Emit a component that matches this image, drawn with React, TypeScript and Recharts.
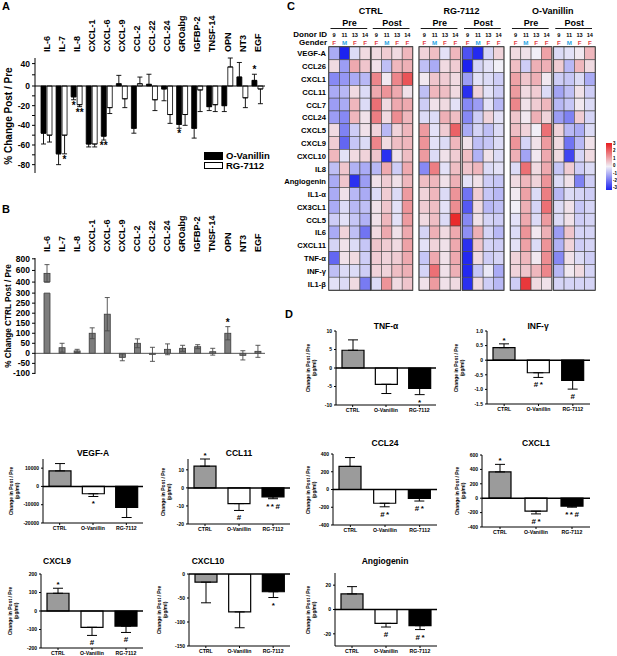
import React from 'react';
import { BarChart, Bar, XAxis, YAxis, ErrorBar, ReferenceLine, ReferenceArea, Cell, ScatterChart, Scatter } from 'recharts';

const FONT = '"Liberation Sans", Arial, Helvetica, sans-serif';

// ---------- Panel A: % change post / pre ----------
const A_CATS = ['IL-6', 'IL-7', 'IL-8', 'CXCL-1', 'CXCL-6', 'CXCL-9', 'CCL-2', 'CCL-22', 'CCL-24', 'GROabg', 'IGFBP-2', 'TNSF-14', 'OPN', 'NT3', 'EGF'];
const A_OV = [-48, -69, -11, -59, -51, 4, -43, 3, -3, -39, -43, -21, -20, 16, 10];
const A_OV_ERR = [11, 11, 3, 3, 4, 15, 5, 18, 12, 4, 10, 4, 6, 26, 11];
const A_RG = [-50, -50, -19, -59, -22, -13, 4, -14, -29, -29, -4, -19, 34, -12, -3];
const A_RG_ERR = [7, 19, 2, 3, 6, 9, 12, 11, 9, 11, 22, 7, 16, 10, 15];
const A_OV_SIG = ['', '', '*', '', '**', '', '', '', '', '*', '', '', '', '', '*'];
const A_RG_SIG = ['', '*', '**', '', '', '', '', '', '', '', '', '', '', '', ''];
const A_TICKS = [40, 20, 0, -10, -20, -30, -40, -50, -60, -70, -80];

// ---------- Panel B: % change CTRL post / pre ----------
const B_VALS = [550, 28, 12, 100, 195, -20, 50, -5, 20, 25, 33, 8, 100, -10, 10];
const B_ERR = [150, 22, 8, 27, 83, 17, 22, 35, 27, 15, 10, 17, 33, 23, 30];
const B_SIG = ['', '', '', '', '', '', '', '', '', '', '', '', '*', '', ''];
const B_TICKS = [-100, -50, 0, 50, 100, 150, 200, 250, 300, 400, 600, 800];

// ---------- Panel C: heatmap (z-scores) ----------
const HM_ROWS = ['VEGF-A', 'CCL26', 'CXCL1', 'CCL11', 'CCL7', 'CCL24', 'CXCL5', 'CXCL9', 'CXCL10', 'IL8', 'Angiogenin', 'IL1-α', 'CX3CL1', 'CCL5', 'IL6', 'CXCL11', 'TNF-α', 'INF-γ', 'IL1-β'];
const HM_GROUPS = ['CTRL', 'RG-7112', 'O-Vanillin'];
const HM_PHASES = ['Pre', 'Post'];
const HM_DONORS = ['9', '11', '13', '14'];
const HM_GENDERS = ['F', 'M', 'F', 'F'];

const CTRL_PRE = [
  [-1, -3, -0.3, 0.3], [0.3, -1.2, 1, 0.6], [-1.5, -1.3, -1, -0.8], [-1, -0.8, 0.3, -0.3],
  [-1.2, -1, 0.8, -0.3], [-1.2, -1.5, 0.8, 0.2], [0.3, -1.6, -0.5, 0.2], [0.5, -2, -0.6, -0.3],
  [0.8, -0.2, 0.3, 0.4], [-0.7, 0.6, -0.9, -1], [-1, 0.6, -2.8, -1.2], [-1, 0.2, -0.8, -1],
  [-1, -0.3, -0.8, -0.7], [-0.5, -0.2, -0.6, -0.9], [-1, 0.4, -0.7, -1.8], [-0.4, 0.2, -0.3, -0.6],
  [-2, 0.2, 0.3, -0.5], [-0.7, -0.3, -0.3, -0.5], [-0.2, -0.3, 0.3, -1.7],
];
const CTRL_POST = [
  [0.3, 0.5, 0.3, 0.8], [0.2, -0.7, 0.8, 0.9], [1.5, 0.1, 1.5, 2.2], [1, 1.3, 1, 0.2],
  [1.8, 0.3, 1, 1], [1.6, 0.3, 1.4, 0.8], [0.4, -0.8, 0.4, 0.8], [1.5, 0.3, 0.7, 0.8],
  [0.6, -2.8, 0.2, 0.7], [-0.8, 1, -0.5, 1], [0.2, 0.5, 0.2, 0.8], [-0.3, 0.5, -0.3, 1.2],
  [0.2, 0.6, -0.2, 1.3], [0.2, 0.8, -0.2, 1.2], [0.3, 1, 0.2, 1], [0.6, 0.5, 0.3, 1.1],
  [0.5, 0.4, 0.5, 1], [0.4, 0.4, 0.7, 0.9], [-0.3, 1.3, 0.3, 0.6],
];
const RG_PRE = [
  [0.4, 0.7, -0.2, 0.8], [-0.7, -1, 0.3, 0.5], [0.1, 0.6, 0.5, 0.3], [-0.7, 0.8, 0.7, 0.3],
  [-0.5, 0.2, 0.3, -0.2], [-0.3, -0.3, 0.9, 0.7], [1.2, -0.2, 0.5, 2], [1.3, -0.2, -0.3, 0.8],
  [1.2, -0.3, 0.2, 0.5], [-1.5, 1.6, -0.2, 0.7], [0.7, 0.8, 0.2, 0.9], [0.4, 0.8, -0.3, 1.3],
  [0.5, 0.7, -0.2, 1.4], [0.3, 0.7, -0.3, 2.8], [-0.4, 0.9, 0.3, 1], [-0.2, 0.4, 0.2, 1],
  [-0.6, 1, 0.2, 1], [-0.4, 1.8, 0.2, 0.9], [0.2, 1.2, 0.2, 0.3],
];
const RG_POST = [
  [-2.3, -2.9, -0.4, 0.4], [-3, -0.4, -0.2, 0], [-1.2, -0.2, -0.3, -0.5], [-2.8, 0.4, -0.2, -0.5],
  [-1.5, -1.2, -0.2, -0.8], [-1.5, -0.5, 0.4, -0.2], [-1, -0.4, -0.7, -0.3], [0.2, -0.7, -0.6, -0.3],
  [0.7, -0.9, 0.2, -0.3], [0.6, 0.8, -0.3, -0.2], [-0.2, 0.2, -0.5, -0.6], [-1.8, 0.5, -0.6, -0.8],
  [-2.2, 0.3, -0.8, -0.7], [-1.5, 0.2, -0.4, -0.5], [-1.4, 0.9, -0.4, -0.8], [-2.8, 0.6, -0.4, -0.5],
  [-2.9, 0.3, -0.5, -0.4], [-2.9, -0.6, -0.1, -1], [-2.8, 0.3, -0.5, -0.8],
];
const OV_PRE = [
  [0.3, 0.2, 0, 1.1], [0.7, -0.5, 0.9, 0.9], [1.1, 0.6, 0.9, 0.1], [1.2, 0.3, 0.5, -0.3],
  [1.5, 0.2, 0.5, 0.8], [0.6, 0.1, 0.9, 0.4], [0.7, 0.4, 0, 1.8], [1.3, -0.4, 0.2, 1.2],
  [0.9, -1.1, 0.1, 1], [-0.3, 1.8, 0.3, 1], [0.3, 0.8, 0.4, 1.3], [0.1, 1.1, -0.3, 1.6],
  [0, 0.9, -0.4, 1.8], [-0.2, 1, -0.3, 1.2], [-0.3, 1.3, 0.1, 0.9], [-0.2, 1.1, -0.3, 1.3],
  [0.4, 0.8, 0.1, 1.4], [0.4, 0.6, 0.8, 1.5], [-0.5, 2.6, 0.3, 0.2],
];
const OV_POST = [
  [-0.3, -0.2, 0.1, 0.8], [0.5, -0.8, 0.8, 0.3], [-0.5, -0.6, -0.3, -1], [-1.1, -0.7, 0.2, -0.5],
  [-0.8, -0.6, 0.1, -0.3], [-1.2, -1.6, 0.5, -0.4], [0.4, -0.8, -1, -0.3], [0.3, -1.8, -0.8, 0.2],
  [0.3, -2.5, -0.4, 0.3], [-0.6, 0.5, -0.5, -0.3], [-0.3, 0.2, -1.6, -0.5], [-0.8, -0.3, -0.4, -0.5],
  [-0.3, 0.2, -0.6, -0.4], [-0.3, 0.2, -0.5, -0.4], [-1.2, 0.6, -0.4, -0.4], [-0.9, 0.4, -0.5, -0.4],
  [-1.5, 0.2, -0.3, -0.5], [-0.8, 0.1, 0.3, -0.4], [-0.4, -0.4, -0.4, -0.4],
];
const HM_BLOCKS = [CTRL_PRE, CTRL_POST, RG_PRE, RG_POST, OV_PRE, OV_POST];
const HM_SCALE = ['3', '2', '1', '0', '-1', '-2', '-3'];

// ---------- Panel D: change in post / pre (pg/ml) ----------
const D_GROUPS = ['CTRL', 'O-Vanillin', 'RG-7112'];
const TNF_VALS = [4.8, -4.4, -5.5];
const TNF_ERR = [2.8, 2.5, 1.7];
const TNF_SIG = ['', '', '*'];
const INF_VALS = [0.43, -0.43, -0.69];
const INF_ERR = [0.13, 0.16, 0.3];
const INF_SIG = ['*', '#*', '#'];
const CCL24_VALS = [260, -155, -100];
const CCL24_ERR = [100, 40, 30];
const CCL24_SIG = ['', '#*', '#*'];
const CXCL1_VALS = [365, -180, -110];
const CXCL1_ERR = [105, 38, 15];
const CXCL1_SIG = ['*', '#*', '**#'];
const VEGF_VALS = [8500, -4000, -11500];
const VEGF_ERR = [4000, 1500, 5500];
const VEGF_SIG = ['', '*', ''];
const CCL11_VALS = [12, -8.7, -5];
const CCL11_ERR = [4, 3.8, 1];
const CCL11_SIG = ['*', '#', '**#'];
const CXCL9_VALS = [96, -88, -82];
const CXCL9_ERR = [27, 44, 34];
const CXCL9_SIG = ['*', '#', '#'];
const CXCL10_VALS = [-17, -79, -37];
const CXCL10_ERR = [43, 33, 12];
const CXCL10_SIG = ['', '', '*'];
const ANG_VALS = [12.8, -11.4, -13.3];
const ANG_ERR = [6, 3, 3.2];
const ANG_SIG = ['', '#', '#*'];

// ---------- helpers ----------
const A_BOX = { x0: 35, y0: 58, x1: 265, y1: 173 };
const A_DOMAIN = [-88.5, 28.5];
const A_POS = 0.57; // positive half of the axis is compressed in the original
const squashA = (v: number) => (v > 0 ? v * A_POS : v);

const B_BOX = { x0: 35, y0: 258, x1: 265, y1: 374 };
const B_DOMAIN = [-103, 475];
// broken axis above 300
const fB = (v: number) => (v <= 300 ? v : v <= 400 ? 300 + (v - 300) * 0.55 : 355 + (v - 400) * 0.29);

const HM_X0 = 329, HM_X1 = 595, HM_Y0 = 47, HM_Y1 = 290;
const HM_BLOCK_START = [0, 4.1, 8.75, 12.95, 17.6, 21.8];
const HM_UNITS = 25.8;
const HM_UNIT = (HM_X1 - HM_X0) / HM_UNITS;
const HM_CELL_H = (HM_Y1 - HM_Y0) / HM_ROWS.length;
const HM_COLS = HM_BLOCK_START.flatMap((s) => HM_DONORS.map((_, k) => s + k + 0.5));

function zColor(z: number) {
  const t = Math.max(-1, Math.min(1, z / 3));
  const mid = [241, 239, 247];
  const end = t >= 0 ? [232, 28, 30] : [28, 34, 240];
  const a = Math.abs(t);
  const c = mid.map((m, i) => Math.round(m + (end[i] - m) * a));
  return `rgb(${c[0]},${c[1]},${c[2]})`;
}

function errPair(v: number, e: number, f: (x: number) => number, twoSided = false) {
  if (twoSided) return [f(v) - f(v - e), f(v + e) - f(v)];
  return v >= 0 ? [0, f(v + e) - f(v)] : [f(v) - f(v - e), 0];
}

// significance marks drawn at the end of each error bar
function sigLabel(sigs: string[], vals: number[], errT: number[], ppu: number, fs: number, below: number, spacing = 0) {
  return (p: any) => {
    const i = p.index;
    const s = sigs[i];
    if (!s) return <g />;
    const vb = p.viewBox || p;
    const top = Math.min(vb.y, vb.y + vb.height);
    const bot = Math.max(vb.y, vb.y + vb.height);
    const cx = vb.x + vb.width / 2 + spacing / 2;
    const e = errT[i] * ppu;
    const y = vals[i] >= 0 ? top - e - 1 : bot + e + below;
    return (
      <text x={cx} y={y} textAnchor="middle" fontSize={fs} fontWeight="bold" fontFamily={FONT} fill="#000" letterSpacing={spacing}>
        {s}
      </text>
    );
  };
}

const RotTick = (p: any) => (
  <text x={p.x} y={p.y} transform={`rotate(-90 ${p.x} ${p.y})`} dy={3.2} textAnchor="start" fontSize={9} fontWeight="bold" fontFamily={FONT} fill="#000">
    {p.payload.value}
  </text>
);

const VLabel = ({ cx, cy, size, children }: any) => (
  <div style={{ position: 'absolute', left: cx, top: cy, transform: 'translate(-50%, -50%) rotate(-90deg)', fontSize: size, fontWeight: 'bold', whiteSpace: 'nowrap', textAlign: 'center', lineHeight: 1.15 }}>
    {children}
  </div>
);

const Letter = ({ x, y, children }: any) => (
  <div style={{ position: 'absolute', left: x, top: y, fontSize: 11, fontWeight: 'bold', lineHeight: 1 }}>{children}</div>
);

// ---------- Panel A ----------
function PanelA() {
  const yW = A_BOX.x0, xH = A_BOX.y0;
  const w = A_BOX.x1 + 5, h = A_BOX.y1 + 3;
  const ppu = (A_BOX.y1 - A_BOX.y0) / (A_DOMAIN[1] - A_DOMAIN[0]);
  const rows = A_CATS.map((name, i) => ({
    name,
    ov: squashA(A_OV[i]),
    ovE: errPair(A_OV[i], A_OV_ERR[i], squashA),
    rg: squashA(A_RG[i]),
    rgE: errPair(A_RG[i], A_RG_ERR[i], squashA),
  }));
  const ovErrT = rows.map((r) => r.ovE[0] + r.ovE[1]);
  const rgErrT = rows.map((r) => r.rgE[0] + r.rgE[1]);
  return (
    <div style={{ position: 'absolute', left: 0, top: 0 }}>
      <BarChart width={w} height={h} data={rows} margin={{ top: 0, right: 5, bottom: 3, left: 0 }} barSize={5} barGap={1}>
        <XAxis dataKey="name" orientation="top" height={xH} axisLine={false} tickLine={false} tickSize={0} tickMargin={6} interval={0} tick={RotTick} padding={{ left: 4, right: 0 }} />
        <YAxis
          width={yW}
          type="number"
          domain={A_DOMAIN}
          allowDataOverflow
          ticks={A_TICKS.map(squashA)}
          interval={0}
          tickFormatter={(v: number, i: number) => {
            const o = A_TICKS[i];
            return o === 20 || Math.abs(o) % 20 === 10 ? '' : String(o);
          }}
          stroke="#000"
          tickSize={3}
          tick={{ fontSize: 8.5, fontWeight: 'bold', fill: '#000', fontFamily: FONT }}
        />
        <ReferenceLine y={0} stroke="#000" strokeWidth={1.2} />
        <Bar dataKey="ov" fill="#000" stroke="#000" strokeWidth={0.8} isAnimationActive={false} label={sigLabel(A_OV_SIG, A_OV, ovErrT, ppu, 10, 9)}>
          <ErrorBar dataKey="ovE" width={2.5} stroke="#000" strokeWidth={0.9} />
        </Bar>
        <Bar dataKey="rg" fill="#fff" stroke="#000" strokeWidth={0.8} isAnimationActive={false} label={sigLabel(A_RG_SIG, A_RG, rgErrT, ppu, 10, 9)}>
          <ErrorBar dataKey="rgE" width={2.5} stroke="#000" strokeWidth={0.9} />
        </Bar>
      </BarChart>
      <VLabel cx={9} cy={116} size={10}>% Change Post / Pre</VLabel>
      <div style={{ position: 'absolute', left: 204, top: 151, fontSize: 9.5, fontWeight: 'bold', whiteSpace: 'nowrap', width: 80, lineHeight: '9.5px' }}>
        <div style={{ display: 'flex', alignItems: 'center', height: 9.5, whiteSpace: 'nowrap' }}>
          <span style={{ display: 'inline-block', flex: 'none', width: 17, height: 5.5, background: '#000', border: '0.8px solid #000', marginRight: 3 }} />
          <span>O-Vanillin</span>
        </div>
        <div style={{ display: 'flex', alignItems: 'center', height: 9.5, whiteSpace: 'nowrap' }}>
          <span style={{ display: 'inline-block', flex: 'none', width: 17, height: 5.5, background: '#fff', border: '0.8px solid #000', marginRight: 3 }} />
          <span>RG-7112</span>
        </div>
      </div>
    </div>
  );
}

// ---------- Panel B ----------
const B_PPU = (B_BOX.y1 - B_BOX.y0) / (B_DOMAIN[1] - B_DOMAIN[0]);
const bShape = (p: any) => {
  const top = Math.min(p.y, p.y + p.height);
  const h = Math.abs(p.height);
  const bot = top + h;
  const parts = [<rect key="b" x={p.x} y={top} width={p.width} height={h} fill="#7d7d7d" stroke="#3a3a3a" strokeWidth={0.8} />];
  if (p.payload && p.payload.name === 'IL-6') {
    const g1 = bot - 300 * B_PPU;
    const g0 = bot - fB(400) * B_PPU;
    parts.push(<rect key="g" x={p.x - 1} y={g0} width={p.width + 2} height={g1 - g0} fill="#fff" />);
    parts.push(<line key="l1" x1={p.x} x2={p.x + p.width} y1={g1} y2={g1} stroke="#3a3a3a" strokeWidth={0.8} />);
    parts.push(<line key="l0" x1={p.x} x2={p.x + p.width} y1={g0} y2={g0} stroke="#3a3a3a" strokeWidth={0.8} />);
  }
  return <g>{parts}</g>;
};

function PanelB() {
  const yW = B_BOX.x0, xH = 50;
  const top = B_BOX.y0 - xH;
  const w = B_BOX.x1 + 5, h = B_BOX.y1 - top + 3;
  const rows = A_CATS.map((name, i) => ({
    name,
    v: fB(B_VALS[i]),
    e: errPair(B_VALS[i], B_ERR[i], fB, true),
  }));
  const errT = rows.map((r) => r.e[1]);
  return (
    <div style={{ position: 'absolute', left: 0, top }}>
      <BarChart width={w} height={h} data={rows} margin={{ top: 0, right: 5, bottom: 3, left: 0 }} barSize={6}>
        <XAxis dataKey="name" orientation="top" height={xH} axisLine={false} tickLine={false} tickSize={0} tickMargin={6} interval={0} tick={RotTick} padding={{ left: 4, right: 0 }} />
        <YAxis
          width={yW}
          type="number"
          domain={B_DOMAIN}
          allowDataOverflow
          ticks={B_TICKS.map(fB)}
          interval={0}
          tickFormatter={(v: number, i: number) => String(B_TICKS[i])}
          stroke="#000"
          tickSize={3}
          tick={{ fontSize: 8.5, fontWeight: 'bold', fill: '#000', fontFamily: FONT }}
        />
        <ReferenceLine y={0} stroke="#555" strokeWidth={1} />
        <Bar dataKey="v" isAnimationActive={false} shape={bShape} label={sigLabel(B_SIG, B_VALS, errT, B_PPU, 10, 9)}>
          <ErrorBar dataKey="e" width={2.5} stroke="#4a4a4a" strokeWidth={0.9} />
        </Bar>
      </BarChart>
      <VLabel cx={9} cy={316 - top} size={8.2}>% Change CTRL Post / Pre</VLabel>
    </div>
  );
}

// ---------- Panel C ----------
const hmColTick = (p: any) => {
  const col = HM_COLS.findIndex((c) => Math.abs(c - p.payload.value) < 1e-6);
  if (col < 0) return <g />;
  const b = Math.floor(col / 4);
  const k = col % 4;
  const x = p.x, y = p.y;
  const items: any[] = [
    <text key="d" x={x} y={y - 10} textAnchor="middle" fontSize={5.6} fontWeight="bold" fontFamily={FONT} fill="#000">{HM_DONORS[k]}</text>,
    <text key="g" x={x} y={y - 2} textAnchor="middle" fontSize={6.2} fontWeight="bold" fontFamily={FONT} fill={HM_GENDERS[k] === 'M' ? '#2aa3e2' : '#e2403f'}>{HM_GENDERS[k]}</text>,
  ];
  if (k === 0) {
    const bx = x + 1.5 * HM_UNIT;
    items.push(<text key="p" x={bx} y={y - 21} textAnchor="middle" fontSize={9} fontWeight="bold" fontFamily={FONT} fill="#000">{HM_PHASES[b % 2]}</text>);
    items.push(<line key="u" x1={x - 0.5 * HM_UNIT + 1.5} x2={x + 3.5 * HM_UNIT - 3} y1={y - 18.5} y2={y - 18.5} stroke="#000" strokeWidth={0.9} />);
    if (b % 2 === 0) {
      const gc = (HM_BLOCK_START[b] + HM_BLOCK_START[b + 1] + 4) / 2;
      const gx = x + (gc - (HM_BLOCK_START[b] + 0.5)) * HM_UNIT;
      items.push(<text key="t" x={gx} y={y - 33.5} textAnchor="middle" fontSize={9} fontWeight="bold" fontFamily={FONT} fill="#000">{HM_GROUPS[b / 2]}</text>);
    }
    if (b === 0) {
      items.push(<text key="di" x={x - 0.5 * HM_UNIT - 2} y={y - 10} textAnchor="end" fontSize={8} fontWeight="bold" fontFamily={FONT} fill="#000">Donor ID</text>);
      items.push(<text key="ge" x={x - 0.5 * HM_UNIT - 2} y={y - 2} textAnchor="end" fontSize={8} fontWeight="bold" fontFamily={FONT} fill="#000">Gender</text>);
    }
  }
  return <g>{items}</g>;
};

const hmRowTick = (p: any) => (
  <text x={p.x} y={p.y} dy={3} textAnchor="end" fontSize={7.6} fontWeight="bold" fontFamily={FONT} fill="#000">
    {HM_ROWS[Math.floor(p.payload.value)]}
  </text>
);

function PanelC() {
  const left = 280;
  const yW = HM_X0 - left;
  const xH = HM_Y0;
  const w = HM_X1 - left + 3, h = HM_Y1 + 3;
  const cells = HM_BLOCKS.flatMap((blk, b) =>
    blk.flatMap((row, r) => row.map((z, k) => ({ x: HM_BLOCK_START[b] + k + 0.5, y: r + 0.5, z })))
  );
  return (
    <div style={{ position: 'absolute', left, top: 0 }}>
      <ScatterChart width={w} height={h} margin={{ top: 0, right: 3, bottom: 3, left: 0 }}>
        <XAxis type="number" dataKey="x" orientation="top" domain={[0, HM_UNITS]} allowDataOverflow ticks={HM_COLS} interval={0} height={xH} axisLine={false} tickLine={false} tickSize={0} tickMargin={0} tick={hmColTick} />
        <YAxis type="number" dataKey="y" domain={[0, HM_ROWS.length]} reversed allowDataOverflow ticks={HM_ROWS.map((_, i) => i + 0.5)} interval={0} width={yW} axisLine={false} tickLine={false} tickSize={0} tickMargin={3} tick={hmRowTick} />
        <Scatter
          data={cells}
          isAnimationActive={false}
          shape={(p: any) => (
            <rect x={p.cx - HM_UNIT / 2} y={p.cy - HM_CELL_H / 2} width={HM_UNIT} height={HM_CELL_H} fill={zColor(p.payload.z)} stroke="#4a4a4a" strokeWidth={0.6} />
          )}
        />
        {HM_BLOCK_START.map((s, b) => (
          <ReferenceArea key={b} x1={s} x2={s + 4} y1={0} y2={HM_ROWS.length} fill="none" fillOpacity={0} stroke="#111" strokeWidth={1.4} />
        ))}
      </ScatterChart>
      <div style={{ position: 'absolute', left: 606 - left, top: 143, width: 6, height: 47, background: 'linear-gradient(#e81c1e, #f1eff7, #1c22f0)' }} />
      {HM_SCALE.map((t, i) => (
        <div key={t} style={{ position: 'absolute', left: 613 - left, top: 141 + i * 7.4, fontSize: 4.5, fontWeight: 'bold', lineHeight: '5px' }}>{t}</div>
      ))}
    </div>
  );
}

// ---------- Panel D ----------
const D_FILLS = ['#9b9b9b', '#ffffff', '#000000'];
const D_PANELS = [
  { title: 'TNF-α', vals: TNF_VALS, errs: TNF_ERR, sigs: TNF_SIG, box: [336, 331, 436, 405], domain: [-10, 10], ticks: [-10, -5, 0, 5, 10], t: [386, 326], lx: 312, dec: 0 },
  { title: 'INF-γ', vals: INF_VALS, errs: INF_ERR, sigs: INF_SIG, box: [487, 331, 590, 404], domain: [-1.5, 1.0], ticks: [-1.5, -1, -0.5, 0, 0.5, 1], t: [538, 326], lx: 460, dec: 1 },
  { title: 'VEGF-A', vals: VEGF_VALS, errs: VEGF_ERR, sigs: VEGF_SIG, box: [43, 459, 143, 523], domain: [-20000, 15000], ticks: [-20000, -10000, 0, 10000], t: [93, 453], lx: 15, dec: 0 },
  { title: 'CCL11', vals: CCL11_VALS, errs: CCL11_ERR, sigs: CCL11_SIG, box: [188, 459, 290, 524], domain: [-20, 16], ticks: [-20, -10, 0, 10], t: [239, 453], lx: 167, dec: 0 },
  { title: 'CCL24', vals: CCL24_VALS, errs: CCL24_ERR, sigs: CCL24_SIG, box: [333, 454, 437, 525], domain: [-400, 400], ticks: [-400, -200, 0, 200, 400], t: [385, 443], lx: 312, dec: 0 },
  { title: 'CXCL1', vals: CXCL1_VALS, errs: CXCL1_ERR, sigs: CXCL1_SIG, box: [482, 455, 590, 527], domain: [-400, 600], ticks: [-400, -200, 0, 200, 400, 600], t: [536, 443], lx: 461, dec: 0 },
  { title: 'CXCL9', vals: CXCL9_VALS, errs: CXCL9_ERR, sigs: CXCL9_SIG, box: [41, 574, 143, 648], domain: [-200, 200], ticks: [-200, -100, 0, 100, 200], t: [57, 561], lx: 14, dec: 0 },
  { title: 'CXCL10', vals: CXCL10_VALS, errs: CXCL10_ERR, sigs: CXCL10_SIG, box: [189, 574, 290, 646], domain: [-150, 0], ticks: [-150, -100, -50, 0], t: [208, 561], lx: 163, dec: 0 },
  { title: 'Angiogenin', vals: ANG_VALS, errs: ANG_ERR, sigs: ANG_SIG, box: [335, 573, 437, 646], domain: [-30, 30], ticks: [-20, 0, 20], t: [385, 561], lx: 312, dec: 0 },
];

function Mini({ cfg }: any) {
  const [x0, y0, x1, y1] = cfg.box;
  const yW = 26, mt = 14, xH = 12, mr = 4;
  const w = x1 - x0 + yW + mr, h = y1 - y0 + mt + xH;
  const left = x0 - yW, top = y0 - mt;
  const ppu = (y1 - y0) / (cfg.domain[1] - cfg.domain[0]);
  const rows = D_GROUPS.map((g, i) => ({ name: g, v: cfg.vals[i], e: errPair(cfg.vals[i], cfg.errs[i], (x: number) => x) }));
  return (
    <>
      <div style={{ position: 'absolute', left, top }}>
        <BarChart width={w} height={h} data={rows} margin={{ top: mt, right: mr, bottom: 0, left: 0 }} barSize={22}>
          <XAxis dataKey="name" height={xH} stroke="#000" tickSize={2} tickMargin={1.5} interval={0} tick={{ fontSize: 5.2, fontWeight: 'bold', fill: '#000', fontFamily: FONT }} />
          <YAxis
            width={yW}
            type="number"
            domain={cfg.domain}
            allowDataOverflow
            ticks={cfg.ticks}
            interval={0}
            stroke="#000"
            tickSize={2}
            tickMargin={2}
            tickFormatter={(v: number) => (v === 0 ? '0' : v.toFixed(cfg.dec))}
            tick={{ fontSize: 5, fontWeight: 'bold', fill: '#000', fontFamily: FONT }}
          />
          <ReferenceLine y={0} stroke="#000" strokeWidth={1.5} />
          <Bar dataKey="v" stroke="#000" strokeWidth={1.2} isAnimationActive={false} label={sigLabel(cfg.sigs, cfg.vals, cfg.errs, ppu, 8, 10, 1.5)}>
            {rows.map((r, i) => (
              <Cell key={r.name} fill={D_FILLS[i]} />
            ))}
            <ErrorBar dataKey="e" width={5} stroke="#000" strokeWidth={1} />
          </Bar>
        </BarChart>
      </div>
      <div style={{ position: 'absolute', left: cfg.t[0], top: cfg.t[1], transform: 'translate(-50%, -50%)', fontSize: 8.5, fontWeight: 'bold', whiteSpace: 'nowrap' }}>{cfg.title}</div>
      <VLabel cx={cfg.lx} cy={(y0 + y1) / 2} size={5}>
        Change in Post / Pre
        <br />
        (pg/ml)
      </VLabel>
    </>
  );
}

export default function App() {
  return (
    <div style={{ position: 'absolute', left: 0, top: 0, width: 617, height: 656, background: '#fff', fontFamily: FONT, color: '#000', overflow: 'hidden' }}>
      <PanelA />
      <PanelB />
      <PanelC />
      {D_PANELS.map((c) => (
        <Mini key={c.title} cfg={c} />
      ))}
      <Letter x={2} y={1}>A</Letter>
      <Letter x={2} y={204}>B</Letter>
      <Letter x={287} y={1}>C</Letter>
      <Letter x={285} y={309}>D</Letter>
    </div>
  );
}
